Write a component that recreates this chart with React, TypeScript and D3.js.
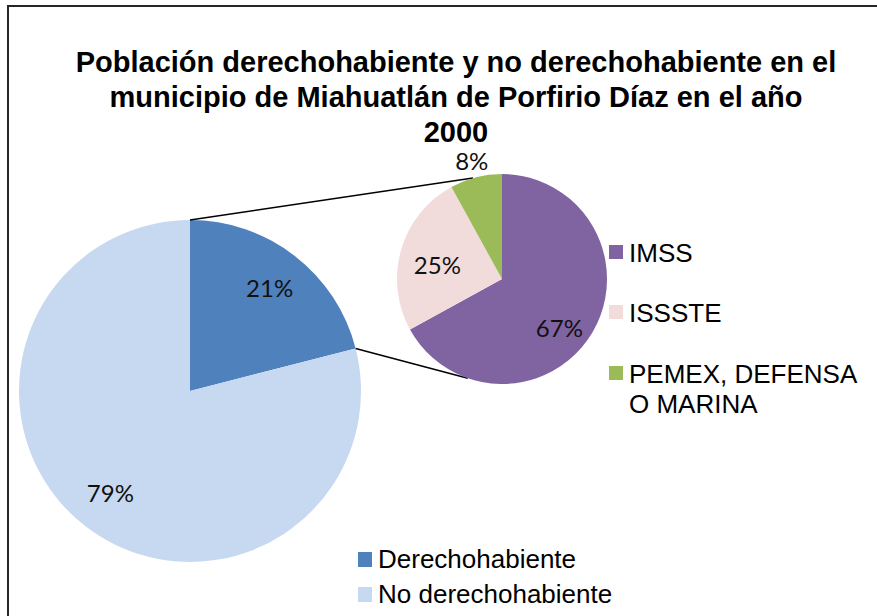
import React, { useEffect, useRef } from "react";
import * as d3 from "d3";

// main pie
const mainLabels = ["Derechohabiente", "No derechohabiente"];
const mainValues = [21, 79];
const mainColors = ["#4F81BD", "#C6D9F0"];

// secondary pie (split of Derechohabiente)
const subLabels = ["IMSS", "ISSSTE", "PEMEX, DEFENSA O MARINA"];
const subValues = [67, 25, 8];
const subColors = ["#8064A2", "#F2DCDB", "#9BBB59"];

const titleLines = [
  "Población derechohabiente y no derechohabiente en el",
  "municipio de Miahuatlán de Porfirio Díaz en el año",
  "2000",
];

const W = 877;
const H = 616;

const App: React.FC = () => {
  const ref = useRef<SVGSVGElement>(null);

  useEffect(() => {
    const svg = d3.select(ref.current);
    svg.selectAll("*").remove();

    const labelFont = "Lato, 'Open Sans', sans-serif";
    const textFont = "'Liberation Sans', Arial, sans-serif";

    // frame (runs past right/bottom of picture)
    svg.append("rect")
      .attr("x", 8).attr("y", 6)
      .attr("width", 920).attr("height", 700)
      .attr("fill", "white")
      .attr("stroke", "#262626")
      .attr("stroke-width", 2);

    // title
    svg.append("g").selectAll("text")
      .data(titleLines)
      .join("text")
      .attr("x", 456)
      .attr("y", (d, i) => 72 + i * 35)
      .attr("text-anchor", "middle")
      .attr("font-family", textFont)
      .attr("font-weight", "bold")
      .attr("font-size", 29)
      .attr("fill", "#000")
      .text(d => d);

    const pie = d3.pie<number>().sort(null).value(d => d);

    // main pie
    const mc = { x: 190, y: 391 };
    const mr = 171;
    const mainArcs = pie(mainValues);
    const mainArc = d3.arc<d3.PieArcDatum<number>>().innerRadius(0).outerRadius(mr);

    const gMain = svg.append("g").attr("transform", `translate(${mc.x},${mc.y})`);
    gMain.selectAll("path")
      .data(mainArcs)
      .join("path")
      .attr("d", mainArc)
      .attr("fill", (d, i) => mainColors[i]);

    const mainLabelArc = d3.arc<d3.PieArcDatum<number>>()
      .innerRadius(mr * 0.76).outerRadius(mr * 0.76);
    gMain.selectAll("text")
      .data(mainArcs)
      .join("text")
      .attr("transform", d => {
        const [x, y] = mainLabelArc.centroid(d);
        return `translate(${x},${y})`;
      })
      .attr("text-anchor", "middle")
      .attr("dy", "0.36em")
      .attr("font-family", labelFont)
      .attr("font-size", 24)
      .attr("fill", "#111")
      .text(d => d.data + "%");

    // secondary pie
    const sc = { x: 502, y: 279 };
    const sr = 105;
    const subArcs = pie(subValues);
    const subArc = d3.arc<d3.PieArcDatum<number>>().innerRadius(0).outerRadius(sr);

    // connector lines from the split slice to the secondary pie
    const polar = (cx: number, cy: number, r: number, a: number) =>
      [cx + r * Math.sin(a), cy - r * Math.cos(a)];
    const split = mainArcs[0];
    const topA = -16 * Math.PI / 180;
    const botA = 199 * Math.PI / 180;
    const connectors = [
      [polar(mc.x, mc.y, mr, split.startAngle), polar(sc.x, sc.y, sr, topA)],
      [polar(mc.x, mc.y, mr, split.endAngle), polar(sc.x, sc.y, sr, botA)],
    ];
    svg.append("g").selectAll("line")
      .data(connectors)
      .join("line")
      .attr("x1", d => d[0][0]).attr("y1", d => d[0][1])
      .attr("x2", d => d[1][0]).attr("y2", d => d[1][1])
      .attr("stroke", "#000")
      .attr("stroke-width", 1.5);

    const gSub = svg.append("g").attr("transform", `translate(${sc.x},${sc.y})`);
    gSub.selectAll("path")
      .data(subArcs)
      .join("path")
      .attr("d", subArc)
      .attr("fill", (d, i) => subColors[i]);

    // label radius / angle nudge per slice (Excel best-fit placement)
    const subLabelR = [0.72, 0.63, 1.16];
    const subLabelNudge = [10, -4, 0];
    gSub.selectAll("text")
      .data(subArcs)
      .join("text")
      .attr("transform", (d, i) => {
        const a = (d.startAngle + d.endAngle) / 2 + subLabelNudge[i] * Math.PI / 180;
        const [x, y] = polar(0, 0, sr * subLabelR[i], a);
        return `translate(${x},${y})`;
      })
      .attr("text-anchor", "middle")
      .attr("dy", "0.36em")
      .attr("font-family", labelFont)
      .attr("font-size", 24)
      .attr("fill", "#111")
      .text(d => d.data + "%");

    // legend for secondary pie
    const subLegend = svg.append("g").attr("transform", "translate(609,0)");
    const subRows = [262, 322, 383];
    subLabels.forEach((name, i) => {
      const y = subRows[i];
      subLegend.append("rect")
        .attr("x", 0).attr("y", y - 17)
        .attr("width", 14).attr("height", 14)
        .attr("fill", subColors[i]);
      const words = name === "PEMEX, DEFENSA O MARINA"
        ? ["PEMEX, DEFENSA", "O MARINA"] : [name];
      words.forEach((w, j) => {
        subLegend.append("text")
          .attr("x", 20).attr("y", y + j * 30)
          .attr("font-family", textFont)
          .attr("font-size", 26)
          .attr("fill", "#000")
          .text(w);
      });
    });

    // legend for main pie
    const mainLegend = svg.append("g").attr("transform", "translate(358,0)");
    const mainRows = [568, 603];
    mainLabels.forEach((name, i) => {
      const y = mainRows[i];
      mainLegend.append("rect")
        .attr("x", 0).attr("y", y - 16)
        .attr("width", 14).attr("height", 15)
        .attr("fill", mainColors[i]);
      mainLegend.append("text")
        .attr("x", 20).attr("y", y)
        .attr("font-family", textFont)
        .attr("font-size", 26)
        .attr("fill", "#000")
        .text(name);
    });
  }, []);

  return (
    <svg
      ref={ref}
      width={W}
      height={H}
      style={{ position: "absolute", left: 0, top: 0, background: "white" }}
    />
  );
};

export default App;
